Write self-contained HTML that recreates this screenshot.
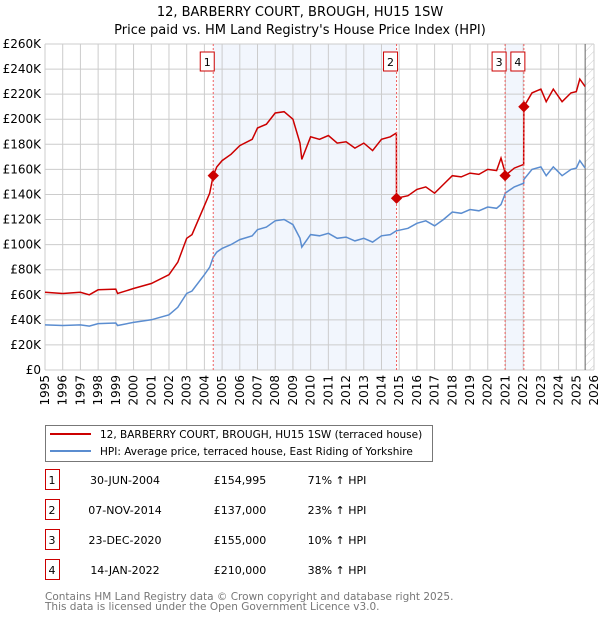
<!DOCTYPE html>
<html><head><meta charset="utf-8"><style>
body{margin:0;background:#fff;font-family:"Liberation Sans","DejaVu Sans",sans-serif;}
svg text{font-family:"DejaVu Sans","Liberation Sans",sans-serif;}
</style></head><body>
<svg id="chart" width="600" height="620" viewBox="0 0 600 620" xmlns="http://www.w3.org/2000/svg">
<defs><pattern id="hatch" width="6" height="6" patternUnits="userSpaceOnUse" patternTransform="rotate(45)"><line x1="0" y1="0" x2="0" y2="6" stroke="#ccc" stroke-width="1"/></pattern></defs>
<text x="300" y="16" text-anchor="middle" font-size="13">12, BARBERRY COURT, BROUGH, HU15 1SW</text>
<text x="300" y="34" text-anchor="middle" font-size="13">Price paid vs. HM Land Registry's House Price Index (HPI)</text>
<g id="shade"></g><g id="grid"></g><g id="axes"></g><g id="lines"></g><g id="marks"></g>
<g>
<rect x="45.5" y="425.5" width="387" height="36" fill="#fff" stroke="#777"/>
<line x1="50" y1="434" x2="91" y2="434" stroke="#cc0000" stroke-width="2"/>
<text x="100" y="438" font-size="10.5">12, BARBERRY COURT, BROUGH, HU15 1SW (terraced house)</text>
<line x1="50" y1="451" x2="91" y2="451" stroke="#5b8dd0" stroke-width="2"/>
<text x="100" y="455" font-size="10.5">HPI: Average price, terraced house, East Riding of Yorkshire</text>
</g>
<g id="table" font-size="11"></g>
<text x="45" y="600" font-size="10.5" fill="#777">Contains HM Land Registry data © Crown copyright and database right 2025.</text>
<text x="45" y="610" font-size="10.5" fill="#777">This data is licensed under the Open Government Licence v3.0.</text>
</svg>
<script>
const dates=[1995,1996,1997,1997.5,1998,1999,1999.1,2000,2001,2002,2002.5,2003,2003.3,2004,2004.3,2004.5,2004.7,2005,2005.5,2006,2006.7,2007,2007.5,2008,2008.5,2009,2009.4,2009.5,2010,2010.5,2011,2011.5,2012,2012.5,2013,2013.5,2014,2014.5,2014.84,2014.85,2015.5,2016,2016.5,2017,2017.5,2018,2018.5,2019,2019.5,2020,2020.5,2020.75,2020.97,2020.98,2021.5,2022.03,2022.04,2022.5,2023,2023.3,2023.7,2024.2,2024.7,2025,2025.2,2025.5];
const hpiValues=[36,35.5,36,35,37,37.5,35.5,38,40,44,50,61,63,76,82,90,94,97,100,104,107,112,114,119,120,116,105,98,108,107,109,105,106,103,105,102,107,108,111,111,113,117,119,115,120,126,125,128,127,130,129,132,140,141,146,149,152,160,162,155,162,155,160,161,167,161];
const propertyValues=[62,61,62,60,64,64.5,61,65,69,76,86,105,108,131,141,155,162,167,172,179,184,193,196,205,206,200,181,168,186,184,187,181,182,177,181,175,184,186,189,137,139,144,146,141,148,155,154,157,156,160,159,169,158,155,161,164,210,221,224,214,224,214,221,222,232,226];
const saleLabels=["1","2","3","4"];
const saleDates=[2004.5,2014.85,2020.98,2022.04];
const salePrices=[155,137,155,210];
const saleDateText=["30-JUN-2004","07-NOV-2014","23-DEC-2020","14-JAN-2022"];
const salePriceText=["£154,995","£137,000","£155,000","£210,000"];
const saleHpiText=["71% ↑ HPI","23% ↑ HPI","10% ↑ HPI","38% ↑ HPI"];
const yTicks=[0,20,40,60,80,100,120,140,160,180,200,220,240,260];
const xTicks=[1995,1996,1997,1998,1999,2000,2001,2002,2003,2004,2005,2006,2007,2008,2009,2010,2011,2012,2013,2014,2015,2016,2017,2018,2019,2020,2021,2022,2023,2024,2025,2026];
const X0=45,X1=594,Y0=370,Y1=44;
const xs=y=>X0+(y-1995)/(2026-1995)*(X1-X0);
const ys=v=>Y0-v/260*(Y0-Y1);
const NS="http://www.w3.org/2000/svg";
function mk(p,tag,at){const e=document.createElementNS(NS,tag);for(const k in at)e.setAttribute(k,at[k]);document.getElementById(p).appendChild(e);return e;}
let s=mk('shade','rect',{x:xs(saleDates[0]),y:Y1,width:xs(saleDates[1])-xs(saleDates[0]),height:Y0-Y1,fill:'#f2f6fd'});


s=mk('shade','rect',{x:xs(saleDates[2]),y:Y1,width:xs(saleDates[3])-xs(saleDates[2]),height:Y0-Y1,fill:'#f2f6fd'});


s=mk('shade','rect',{x:xs(2025.5),y:Y1,width:X1-xs(2025.5),height:Y0-Y1,fill:'url(#hatch)'});


yTicks.forEach(v=>{const l=mk('grid','line',{x1:X0,x2:X1,y1:ys(v),y2:ys(v),stroke:'#ccc'});


const t=mk('axes','text',{x:X0-4,y:ys(v)+4,'text-anchor':'end','font-size':'12'});t.textContent=v===0?'£0':'£'+v+'K';

});
xTicks.forEach(y=>{const l=mk('grid','line',{x1:xs(y),x2:xs(y),y1:Y1,y2:Y0,stroke:'#ccc'});


const t=mk('axes','text',{x:0,y:0,'text-anchor':'end','font-size':'12',transform:`translate(${xs(y)+4},${Y0+5}) rotate(-90)`});t.textContent=y;

});
s=mk('grid','line',{x1:xs(2025.5),x2:xs(2025.5),y1:Y1,y2:Y0,stroke:'#666'});


const pts=a=>a.map((v,i)=>xs(dates[i]).toFixed(1)+','+ys(v).toFixed(1)).join(' ');
let l=mk('lines','polyline',{points:pts(hpiValues),fill:'none',stroke:'#5b8dd0','stroke-width':1.5});


l=mk('lines','polyline',{points:pts(propertyValues),fill:'none',stroke:'#cc0000','stroke-width':1.5});


saleDates.forEach((d,i)=>{const x=xs(d);
const v=mk('marks','line',{x1:x,x2:x,y1:Y1,y2:Y0,stroke:'#f06060','stroke-dasharray':'2,2'});


const dm=mk('marks','rect',{x:x-4,y:ys(salePrices[i])-4,width:8,height:8,fill:'#cc0000',transform:`rotate(45 ${x} ${ys(salePrices[i])})`});


const bx=mk('marks','rect',{x:x-13,y:52,width:14,height:19,fill:'#fff',stroke:'#cc0000'});


const t=mk('marks','text',{x:x-6,y:66,'text-anchor':'middle','font-size':'11'});t.textContent=saleLabels[i];


const ry=483+i*30;
const b=mk('table','rect',{x:45.5,y:ry-13.5,width:14,height:20,fill:'#fff',stroke:'#cc0000'});


const c=[[52,saleLabels[i],'middle'],[125,saleDateText[i],'middle'],[240,salePriceText[i],'middle'],[337,saleHpiText[i],'middle']];
c.forEach(cc=>{const tt=mk('table','text',{x:cc[0],y:ry+1,'text-anchor':cc[2]});tt.textContent=cc[1];

});
});
</script>
</body></html>
